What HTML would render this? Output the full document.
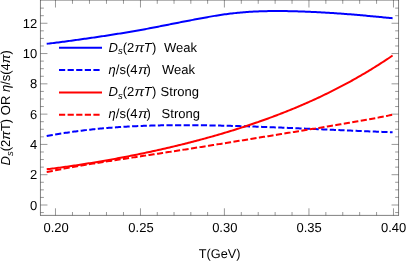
<!DOCTYPE html>
<html><head><meta charset="utf-8"><title>Plot</title>
<style>
html,body{margin:0;padding:0;background:#fff;}
svg{display:block;will-change:transform;transform:translateZ(0);}
text{text-rendering:geometricPrecision;font-family:"Liberation Sans",sans-serif;font-size:13px;fill:#000;}
</style></head><body>
<svg width="407" height="262" viewBox="0 0 407 262">
<rect width="407" height="262" fill="#fff"/>
<path d="M40.45,0V215.4 M398.55,0V215.4 M40.05,215.4H398.95 M40.05,0.1H398.95" fill="none" stroke="#333" stroke-width="0.62"/>
<path d="M40.45,212.57h3.4 M398.55,212.57h-3.4 M40.45,205.00h7 M398.55,205.00h-7 M40.45,197.43h3.4 M398.55,197.43h-3.4 M40.45,189.85h3.4 M398.55,189.85h-3.4 M40.45,182.28h3.4 M398.55,182.28h-3.4 M40.45,174.71h7 M398.55,174.71h-7 M40.45,167.14h3.4 M398.55,167.14h-3.4 M40.45,159.56h3.4 M398.55,159.56h-3.4 M40.45,151.99h3.4 M398.55,151.99h-3.4 M40.45,144.42h7 M398.55,144.42h-7 M40.45,136.85h3.4 M398.55,136.85h-3.4 M40.45,129.28h3.4 M398.55,129.28h-3.4 M40.45,121.70h3.4 M398.55,121.70h-3.4 M40.45,114.13h7 M398.55,114.13h-7 M40.45,106.56h3.4 M398.55,106.56h-3.4 M40.45,98.98h3.4 M398.55,98.98h-3.4 M40.45,91.41h3.4 M398.55,91.41h-3.4 M40.45,83.84h7 M398.55,83.84h-7 M40.45,76.27h3.4 M398.55,76.27h-3.4 M40.45,68.69h3.4 M398.55,68.69h-3.4 M40.45,61.12h3.4 M398.55,61.12h-3.4 M40.45,53.55h7 M398.55,53.55h-7 M40.45,45.98h3.4 M398.55,45.98h-3.4 M40.45,38.41h3.4 M398.55,38.41h-3.4 M40.45,30.83h3.4 M398.55,30.83h-3.4 M40.45,23.26h7 M398.55,23.26h-7 M40.45,15.69h3.4 M398.55,15.69h-3.4 M40.45,8.12h3.4 M398.55,8.12h-3.4 M55.47,215.4v-7.1 M55.47,0v7.5 M72.47,215.4v-3.4 M72.47,0v3.8 M89.47,215.4v-3.4 M89.47,0v3.8 M106.47,215.4v-3.4 M106.47,0v3.8 M123.47,215.4v-3.4 M123.47,0v3.8 M140.47,215.4v-7.1 M140.47,0v7.5 M157.26,215.4v-3.4 M157.26,0v3.8 M174.04,215.4v-3.4 M174.04,0v3.8 M190.83,215.4v-3.4 M190.83,0v3.8 M207.61,215.4v-3.4 M207.61,0v3.8 M224.40,215.4v-7.1 M224.40,0v7.5 M241.31,215.4v-3.4 M241.31,0v3.8 M258.22,215.4v-3.4 M258.22,0v3.8 M275.13,215.4v-3.4 M275.13,0v3.8 M292.04,215.4v-3.4 M292.04,0v3.8 M308.95,215.4v-7.1 M308.95,0v7.5 M325.85,215.4v-3.4 M325.85,0v3.8 M342.76,215.4v-3.4 M342.76,0v3.8 M359.66,215.4v-3.4 M359.66,0v3.8 M376.57,215.4v-3.4 M376.57,0v3.8 M393.47,215.4v-7.1 M393.47,0v7.5" stroke="#333" stroke-width="0.5" fill="none"/>
<path d="M46.70,43.77 L48.15,43.62 L49.59,43.46 L51.04,43.30 L52.49,43.13 L53.94,42.96 L55.38,42.78 L56.83,42.60 L58.28,42.42 L59.73,42.23 L61.17,42.04 L62.62,41.85 L64.07,41.66 L65.51,41.46 L66.96,41.27 L68.41,41.07 L69.86,40.87 L71.30,40.67 L72.75,40.47 L74.20,40.27 L75.65,40.07 L77.09,39.87 L78.54,39.67 L79.99,39.47 L81.43,39.27 L82.88,39.07 L84.33,38.86 L85.78,38.66 L87.22,38.45 L88.67,38.25 L90.12,38.04 L91.57,37.83 L93.01,37.63 L94.46,37.42 L95.91,37.21 L97.35,36.99 L98.80,36.78 L100.25,36.57 L101.70,36.35 L103.14,36.13 L104.59,35.91 L106.04,35.69 L107.49,35.47 L108.93,35.25 L110.38,35.02 L111.83,34.79 L113.27,34.56 L114.72,34.32 L116.17,34.09 L117.62,33.86 L119.06,33.62 L120.51,33.39 L121.96,33.16 L123.41,32.92 L124.85,32.69 L126.30,32.45 L127.75,32.20 L129.19,31.96 L130.64,31.71 L132.09,31.46 L133.54,31.21 L134.98,30.96 L136.43,30.71 L137.88,30.45 L139.33,30.19 L140.77,29.94 L142.22,29.67 L143.67,29.41 L145.12,29.15 L146.56,28.88 L148.01,28.61 L149.46,28.34 L150.90,28.06 L152.35,27.79 L153.80,27.51 L155.25,27.23 L156.69,26.95 L158.14,26.66 L159.59,26.38 L161.04,26.09 L162.48,25.81 L163.93,25.52 L165.38,25.23 L166.82,24.95 L168.27,24.66 L169.72,24.37 L171.17,24.08 L172.61,23.79 L174.06,23.51 L175.51,23.22 L176.96,22.93 L178.40,22.65 L179.85,22.36 L181.30,22.08 L182.74,21.79 L184.19,21.51 L185.64,21.23 L187.09,20.95 L188.53,20.68 L189.98,20.40 L191.43,20.13 L192.88,19.86 L194.32,19.59 L195.77,19.33 L197.22,19.06 L198.66,18.79 L200.11,18.52 L201.56,18.25 L203.01,17.97 L204.45,17.69 L205.90,17.42 L207.35,17.15 L208.80,16.89 L210.24,16.63 L211.69,16.38 L213.14,16.13 L214.58,15.88 L216.03,15.64 L217.48,15.40 L218.93,15.17 L220.37,14.95 L221.82,14.73 L223.27,14.53 L224.72,14.33 L226.16,14.14 L227.61,13.95 L229.06,13.77 L230.50,13.60 L231.95,13.43 L233.40,13.27 L234.85,13.12 L236.29,12.97 L237.74,12.82 L239.19,12.68 L240.64,12.54 L242.08,12.41 L243.53,12.29 L244.98,12.17 L246.42,12.05 L247.87,11.95 L249.32,11.85 L250.77,11.76 L252.21,11.67 L253.66,11.60 L255.11,11.53 L256.56,11.46 L258.00,11.40 L259.45,11.34 L260.90,11.29 L262.34,11.24 L263.79,11.20 L265.24,11.17 L266.69,11.13 L268.13,11.10 L269.58,11.08 L271.03,11.06 L272.48,11.05 L273.92,11.03 L275.37,11.03 L276.82,11.02 L278.26,11.03 L279.71,11.03 L281.16,11.04 L282.61,11.05 L284.05,11.07 L285.50,11.08 L286.95,11.11 L288.40,11.13 L289.84,11.16 L291.29,11.19 L292.74,11.23 L294.18,11.26 L295.63,11.30 L297.08,11.35 L298.53,11.39 L299.97,11.44 L301.42,11.49 L302.87,11.54 L304.32,11.60 L305.76,11.66 L307.21,11.72 L308.66,11.78 L310.11,11.84 L311.55,11.91 L313.00,11.98 L314.45,12.05 L315.89,12.12 L317.34,12.19 L318.79,12.27 L320.24,12.34 L321.68,12.42 L323.13,12.50 L324.58,12.59 L326.03,12.67 L327.47,12.76 L328.92,12.85 L330.37,12.94 L331.81,13.03 L333.26,13.12 L334.71,13.21 L336.16,13.31 L337.60,13.41 L339.05,13.51 L340.50,13.61 L341.95,13.72 L343.39,13.82 L344.84,13.93 L346.29,14.04 L347.73,14.15 L349.18,14.26 L350.63,14.37 L352.08,14.49 L353.52,14.61 L354.97,14.73 L356.42,14.85 L357.87,14.97 L359.31,15.10 L360.76,15.22 L362.21,15.35 L363.65,15.48 L365.10,15.61 L366.55,15.75 L368.00,15.88 L369.44,16.02 L370.89,16.15 L372.34,16.29 L373.79,16.43 L375.23,16.56 L376.68,16.70 L378.13,16.84 L379.57,16.98 L381.02,17.11 L382.47,17.25 L383.92,17.38 L385.36,17.52 L386.81,17.65 L388.26,17.77 L389.71,17.90 L391.15,18.02 L392.60,18.13" stroke="#0000ff" stroke-width="2" fill="none"/>
<path d="M46.70,136.08 L48.15,135.80 L49.59,135.54 L51.04,135.27 L52.49,135.01 L53.94,134.75 L55.38,134.50 L56.83,134.25 L58.28,134.01 L59.73,133.77 L61.17,133.54 L62.62,133.30 L64.07,133.08 L65.51,132.85 L66.96,132.64 L68.41,132.42 L69.86,132.21 L71.30,132.00 L72.75,131.80 L74.20,131.60 L75.65,131.40 L77.09,131.21 L78.54,131.02 L79.99,130.84 L81.43,130.66 L82.88,130.48 L84.33,130.31 L85.78,130.13 L87.22,129.97 L88.67,129.80 L90.12,129.64 L91.57,129.49 L93.01,129.34 L94.46,129.19 L95.91,129.04 L97.35,128.90 L98.80,128.76 L100.25,128.62 L101.70,128.49 L103.14,128.36 L104.59,128.23 L106.04,128.10 L107.49,127.98 L108.93,127.86 L110.38,127.75 L111.83,127.64 L113.27,127.53 L114.72,127.42 L116.17,127.32 L117.62,127.22 L119.06,127.12 L120.51,127.03 L121.96,126.93 L123.41,126.84 L124.85,126.76 L126.30,126.67 L127.75,126.59 L129.19,126.51 L130.64,126.44 L132.09,126.36 L133.54,126.29 L134.98,126.22 L136.43,126.15 L137.88,126.09 L139.33,126.03 L140.77,125.97 L142.22,125.91 L143.67,125.86 L145.12,125.81 L146.56,125.76 L148.01,125.71 L149.46,125.66 L150.90,125.62 L152.35,125.58 L153.80,125.54 L155.25,125.50 L156.69,125.47 L158.14,125.43 L159.59,125.40 L161.04,125.37 L162.48,125.35 L163.93,125.32 L165.38,125.30 L166.82,125.28 L168.27,125.26 L169.72,125.24 L171.17,125.22 L172.61,125.21 L174.06,125.20 L175.51,125.19 L176.96,125.18 L178.40,125.17 L179.85,125.17 L181.30,125.16 L182.74,125.16 L184.19,125.16 L185.64,125.16 L187.09,125.16 L188.53,125.17 L189.98,125.17 L191.43,125.18 L192.88,125.19 L194.32,125.20 L195.77,125.21 L197.22,125.22 L198.66,125.24 L200.11,125.25 L201.56,125.27 L203.01,125.29 L204.45,125.31 L205.90,125.33 L207.35,125.35 L208.80,125.37 L210.24,125.39 L211.69,125.42 L213.14,125.45 L214.58,125.47 L216.03,125.50 L217.48,125.53 L218.93,125.56 L220.37,125.59 L221.82,125.63 L223.27,125.66 L224.72,125.70 L226.16,125.73 L227.61,125.77 L229.06,125.81 L230.50,125.84 L231.95,125.88 L233.40,125.92 L234.85,125.96 L236.29,126.01 L237.74,126.05 L239.19,126.09 L240.64,126.14 L242.08,126.18 L243.53,126.23 L244.98,126.27 L246.42,126.32 L247.87,126.37 L249.32,126.42 L250.77,126.47 L252.21,126.52 L253.66,126.57 L255.11,126.62 L256.56,126.67 L258.00,126.72 L259.45,126.78 L260.90,126.83 L262.34,126.88 L263.79,126.94 L265.24,126.99 L266.69,127.05 L268.13,127.10 L269.58,127.16 L271.03,127.22 L272.48,127.27 L273.92,127.33 L275.37,127.39 L276.82,127.45 L278.26,127.50 L279.71,127.56 L281.16,127.62 L282.61,127.68 L284.05,127.74 L285.50,127.80 L286.95,127.86 L288.40,127.92 L289.84,127.98 L291.29,128.04 L292.74,128.11 L294.18,128.17 L295.63,128.23 L297.08,128.29 L298.53,128.35 L299.97,128.42 L301.42,128.48 L302.87,128.54 L304.32,128.60 L305.76,128.67 L307.21,128.73 L308.66,128.79 L310.11,128.85 L311.55,128.92 L313.00,128.98 L314.45,129.04 L315.89,129.11 L317.34,129.17 L318.79,129.23 L320.24,129.30 L321.68,129.36 L323.13,129.42 L324.58,129.48 L326.03,129.55 L327.47,129.61 L328.92,129.67 L330.37,129.74 L331.81,129.80 L333.26,129.86 L334.71,129.92 L336.16,129.99 L337.60,130.05 L339.05,130.11 L340.50,130.17 L341.95,130.24 L343.39,130.30 L344.84,130.36 L346.29,130.42 L347.73,130.48 L349.18,130.54 L350.63,130.60 L352.08,130.66 L353.52,130.73 L354.97,130.79 L356.42,130.85 L357.87,130.91 L359.31,130.97 L360.76,131.03 L362.21,131.08 L363.65,131.14 L365.10,131.20 L366.55,131.26 L368.00,131.32 L369.44,131.38 L370.89,131.44 L372.34,131.49 L373.79,131.55 L375.23,131.61 L376.68,131.66 L378.13,131.72 L379.57,131.78 L381.02,131.83 L382.47,131.89 L383.92,131.94 L385.36,132.00 L386.81,132.05 L388.26,132.11 L389.71,132.16 L391.15,132.22 L392.60,132.27" stroke="#0000ff" stroke-width="2" fill="none" stroke-dasharray="6.2 2.4"/>
<path d="M46.70,169.29 L48.15,169.11 L49.59,168.93 L51.04,168.75 L52.49,168.57 L53.94,168.38 L55.38,168.19 L56.83,168.01 L58.28,167.81 L59.73,167.62 L61.17,167.43 L62.62,167.23 L64.07,167.03 L65.51,166.83 L66.96,166.63 L68.41,166.42 L69.86,166.22 L71.30,166.01 L72.75,165.80 L74.20,165.58 L75.65,165.37 L77.09,165.15 L78.54,164.94 L79.99,164.72 L81.43,164.49 L82.88,164.27 L84.33,164.04 L85.78,163.82 L87.22,163.59 L88.67,163.36 L90.12,163.12 L91.57,162.89 L93.01,162.65 L94.46,162.41 L95.91,162.17 L97.35,161.93 L98.80,161.69 L100.25,161.44 L101.70,161.19 L103.14,160.94 L104.59,160.69 L106.04,160.44 L107.49,160.18 L108.93,159.93 L110.38,159.67 L111.83,159.41 L113.27,159.14 L114.72,158.88 L116.17,158.61 L117.62,158.34 L119.06,158.07 L120.51,157.80 L121.96,157.53 L123.41,157.25 L124.85,156.98 L126.30,156.70 L127.75,156.42 L129.19,156.13 L130.64,155.85 L132.09,155.56 L133.54,155.27 L134.98,154.98 L136.43,154.69 L137.88,154.39 L139.33,154.10 L140.77,153.80 L142.22,153.50 L143.67,153.20 L145.12,152.89 L146.56,152.59 L148.01,152.28 L149.46,151.97 L150.90,151.66 L152.35,151.34 L153.80,151.03 L155.25,150.71 L156.69,150.39 L158.14,150.07 L159.59,149.74 L161.04,149.42 L162.48,149.09 L163.93,148.76 L165.38,148.42 L166.82,148.09 L168.27,147.75 L169.72,147.41 L171.17,147.07 L172.61,146.73 L174.06,146.38 L175.51,146.04 L176.96,145.69 L178.40,145.34 L179.85,144.98 L181.30,144.63 L182.74,144.27 L184.19,143.91 L185.64,143.54 L187.09,143.18 L188.53,142.81 L189.98,142.44 L191.43,142.07 L192.88,141.69 L194.32,141.32 L195.77,140.94 L197.22,140.56 L198.66,140.17 L200.11,139.78 L201.56,139.40 L203.01,139.00 L204.45,138.61 L205.90,138.21 L207.35,137.81 L208.80,137.41 L210.24,137.01 L211.69,136.60 L213.14,136.19 L214.58,135.78 L216.03,135.36 L217.48,134.95 L218.93,134.53 L220.37,134.10 L221.82,133.68 L223.27,133.25 L224.72,132.82 L226.16,132.38 L227.61,131.95 L229.06,131.51 L230.50,131.06 L231.95,130.62 L233.40,130.17 L234.85,129.72 L236.29,129.26 L237.74,128.81 L239.19,128.35 L240.64,127.88 L242.08,127.42 L243.53,126.95 L244.98,126.47 L246.42,126.00 L247.87,125.52 L249.32,125.04 L250.77,124.55 L252.21,124.06 L253.66,123.57 L255.11,123.07 L256.56,122.57 L258.00,122.07 L259.45,121.56 L260.90,121.06 L262.34,120.54 L263.79,120.03 L265.24,119.51 L266.69,118.98 L268.13,118.46 L269.58,117.93 L271.03,117.39 L272.48,116.85 L273.92,116.31 L275.37,115.77 L276.82,115.22 L278.26,114.66 L279.71,114.11 L281.16,113.54 L282.61,112.98 L284.05,112.41 L285.50,111.84 L286.95,111.26 L288.40,110.68 L289.84,110.09 L291.29,109.51 L292.74,108.91 L294.18,108.31 L295.63,107.71 L297.08,107.11 L298.53,106.50 L299.97,105.88 L301.42,105.26 L302.87,104.64 L304.32,104.01 L305.76,103.38 L307.21,102.74 L308.66,102.10 L310.11,101.45 L311.55,100.80 L313.00,100.14 L314.45,99.48 L315.89,98.82 L317.34,98.15 L318.79,97.47 L320.24,96.79 L321.68,96.11 L323.13,95.42 L324.58,94.72 L326.03,94.02 L327.47,93.32 L328.92,92.61 L330.37,91.89 L331.81,91.17 L333.26,90.44 L334.71,89.71 L336.16,88.97 L337.60,88.23 L339.05,87.48 L340.50,86.73 L341.95,85.97 L343.39,85.21 L344.84,84.44 L346.29,83.66 L347.73,82.88 L349.18,82.09 L350.63,81.30 L352.08,80.50 L353.52,79.70 L354.97,78.88 L356.42,78.07 L357.87,77.24 L359.31,76.41 L360.76,75.58 L362.21,74.74 L363.65,73.89 L365.10,73.04 L366.55,72.17 L368.00,71.31 L369.44,70.43 L370.89,69.55 L372.34,68.67 L373.79,67.77 L375.23,66.87 L376.68,65.97 L378.13,65.05 L379.57,64.13 L381.02,63.21 L382.47,62.27 L383.92,61.33 L385.36,60.38 L386.81,59.43 L388.26,58.47 L389.71,57.50 L391.15,56.52 L392.60,55.53" stroke="#ff0000" stroke-width="2" fill="none"/>
<path d="M46.70,172.12 L48.15,171.81 L49.59,171.50 L51.04,171.20 L52.49,170.90 L53.94,170.60 L55.38,170.31 L56.83,170.02 L58.28,169.74 L59.73,169.46 L61.17,169.18 L62.62,168.90 L64.07,168.63 L65.51,168.36 L66.96,168.09 L68.41,167.82 L69.86,167.56 L71.30,167.30 L72.75,167.04 L74.20,166.79 L75.65,166.53 L77.09,166.28 L78.54,166.03 L79.99,165.78 L81.43,165.53 L82.88,165.29 L84.33,165.05 L85.78,164.81 L87.22,164.57 L88.67,164.33 L90.12,164.09 L91.57,163.86 L93.01,163.62 L94.46,163.39 L95.91,163.16 L97.35,162.92 L98.80,162.69 L100.25,162.47 L101.70,162.24 L103.14,162.01 L104.59,161.78 L106.04,161.56 L107.49,161.33 L108.93,161.11 L110.38,160.89 L111.83,160.66 L113.27,160.44 L114.72,160.22 L116.17,160.00 L117.62,159.78 L119.06,159.56 L120.51,159.34 L121.96,159.12 L123.41,158.90 L124.85,158.68 L126.30,158.46 L127.75,158.24 L129.19,158.02 L130.64,157.80 L132.09,157.58 L133.54,157.37 L134.98,157.15 L136.43,156.93 L137.88,156.71 L139.33,156.49 L140.77,156.27 L142.22,156.06 L143.67,155.84 L145.12,155.62 L146.56,155.40 L148.01,155.18 L149.46,154.96 L150.90,154.74 L152.35,154.52 L153.80,154.30 L155.25,154.08 L156.69,153.86 L158.14,153.64 L159.59,153.42 L161.04,153.20 L162.48,152.98 L163.93,152.76 L165.38,152.54 L166.82,152.32 L168.27,152.09 L169.72,151.87 L171.17,151.65 L172.61,151.42 L174.06,151.20 L175.51,150.98 L176.96,150.75 L178.40,150.53 L179.85,150.30 L181.30,150.08 L182.74,149.85 L184.19,149.63 L185.64,149.40 L187.09,149.18 L188.53,148.95 L189.98,148.72 L191.43,148.49 L192.88,148.27 L194.32,148.04 L195.77,147.81 L197.22,147.58 L198.66,147.35 L200.11,147.12 L201.56,146.89 L203.01,146.66 L204.45,146.43 L205.90,146.20 L207.35,145.97 L208.80,145.74 L210.24,145.51 L211.69,145.28 L213.14,145.05 L214.58,144.82 L216.03,144.58 L217.48,144.35 L218.93,144.12 L220.37,143.89 L221.82,143.65 L223.27,143.42 L224.72,143.19 L226.16,142.95 L227.61,142.72 L229.06,142.49 L230.50,142.25 L231.95,142.02 L233.40,141.78 L234.85,141.55 L236.29,141.32 L237.74,141.08 L239.19,140.85 L240.64,140.61 L242.08,140.38 L243.53,140.14 L244.98,139.91 L246.42,139.67 L247.87,139.44 L249.32,139.20 L250.77,138.97 L252.21,138.73 L253.66,138.50 L255.11,138.26 L256.56,138.03 L258.00,137.79 L259.45,137.56 L260.90,137.32 L262.34,137.09 L263.79,136.85 L265.24,136.62 L266.69,136.38 L268.13,136.15 L269.58,135.91 L271.03,135.68 L272.48,135.44 L273.92,135.21 L275.37,134.97 L276.82,134.74 L278.26,134.50 L279.71,134.27 L281.16,134.03 L282.61,133.80 L284.05,133.56 L285.50,133.33 L286.95,133.09 L288.40,132.86 L289.84,132.62 L291.29,132.39 L292.74,132.15 L294.18,131.92 L295.63,131.68 L297.08,131.45 L298.53,131.21 L299.97,130.98 L301.42,130.74 L302.87,130.51 L304.32,130.28 L305.76,130.04 L307.21,129.80 L308.66,129.57 L310.11,129.33 L311.55,129.10 L313.00,128.86 L314.45,128.63 L315.89,128.39 L317.34,128.16 L318.79,127.92 L320.24,127.68 L321.68,127.44 L323.13,127.21 L324.58,126.97 L326.03,126.73 L327.47,126.49 L328.92,126.26 L330.37,126.02 L331.81,125.78 L333.26,125.54 L334.71,125.30 L336.16,125.05 L337.60,124.81 L339.05,124.57 L340.50,124.33 L341.95,124.08 L343.39,123.84 L344.84,123.59 L346.29,123.35 L347.73,123.10 L349.18,122.85 L350.63,122.60 L352.08,122.36 L353.52,122.10 L354.97,121.85 L356.42,121.60 L357.87,121.35 L359.31,121.09 L360.76,120.83 L362.21,120.58 L363.65,120.32 L365.10,120.06 L366.55,119.79 L368.00,119.53 L369.44,119.26 L370.89,119.00 L372.34,118.73 L373.79,118.46 L375.23,118.18 L376.68,117.91 L378.13,117.63 L379.57,117.35 L381.02,117.07 L382.47,116.79 L383.92,116.50 L385.36,116.21 L386.81,115.92 L388.26,115.63 L389.71,115.33 L391.15,115.04 L392.60,114.73" stroke="#ff0000" stroke-width="2" fill="none" stroke-dasharray="6.2 2.4"/>
<path d="M59,47.85H102" stroke="#0000ff" stroke-width="2"/>
<path d="M59,70.0H102" stroke="#0000ff" stroke-width="2" stroke-dasharray="6.2 2.4"/>
<path d="M59,92.5H102" stroke="#ff0000" stroke-width="2"/>
<path d="M59,114.75H102" stroke="#ff0000" stroke-width="2" stroke-dasharray="6.2 2.4"/>
<text x="108.6" y="51.8"><tspan font-style="italic">D</tspan><tspan font-style="italic" style="font-size:9.5px" dy="2.5">s</tspan><tspan dy="-2.5">(2</tspan></text><text transform="translate(134.55,51.8) scale(1.12,1)" font-style="italic">π</text><text x="143.65" y="51.8" font-style="italic">T</text><text x="152.00" y="51.8">)</text>
<text x="164" y="51.8">Weak</text>
<text x="108.6" y="73.8"><tspan font-style="italic">η</tspan>/s(4</text><text transform="translate(137.95,73.8) scale(1.12,1)" font-style="italic">π</text><text x="146.60" y="73.8">)</text>
<text x="162" y="73.8">Weak</text>
<text x="108.6" y="96.2"><tspan font-style="italic">D</tspan><tspan font-style="italic" style="font-size:9.5px" dy="2.5">s</tspan><tspan dy="-2.5">(2</tspan></text><text transform="translate(134.55,96.2) scale(1.12,1)" font-style="italic">π</text><text x="143.65" y="96.2" font-style="italic">T</text><text x="152.00" y="96.2">)</text>
<text x="160.6" y="96.2">Strong</text>
<text x="108.6" y="118.3"><tspan font-style="italic">η</tspan>/s(4</text><text transform="translate(137.95,118.3) scale(1.12,1)" font-style="italic">π</text><text x="146.60" y="118.3">)</text>
<text x="161.6" y="118.3">Strong</text>
<text x="37.2" y="209.65" text-anchor="end">0</text>
<text x="37.2" y="179.36" text-anchor="end">2</text>
<text x="37.2" y="149.07" text-anchor="end">4</text>
<text x="37.2" y="118.78" text-anchor="end">6</text>
<text x="37.2" y="88.49" text-anchor="end">8</text>
<text x="37.2" y="58.20" text-anchor="end">10</text>
<text x="37.2" y="27.91" text-anchor="end">12</text>
<text x="56.17" y="232.1" text-anchor="middle">0.20</text>
<text x="141.02" y="232.1" text-anchor="middle">0.25</text>
<text x="224.80" y="232.1" text-anchor="middle">0.30</text>
<text x="309.20" y="232.1" text-anchor="middle">0.35</text>
<text x="393.57" y="232.1" text-anchor="middle">0.40</text>
<text x="219.6" y="257.7" text-anchor="middle" style="font-size:12.7px">T(GeV)</text>
<g transform="translate(10.3,165.5) rotate(-90)"><text x="0" y="0"><tspan font-style="italic">D</tspan><tspan font-style="italic" style="font-size:9.5px" dy="2.5">s</tspan><tspan dy="-2.5">(2</tspan><tspan font-style="italic">π</tspan>T) OR <tspan font-style="italic">η</tspan>/s(4<tspan font-style="italic">π</tspan>)</text></g>
</svg>
</body></html>
